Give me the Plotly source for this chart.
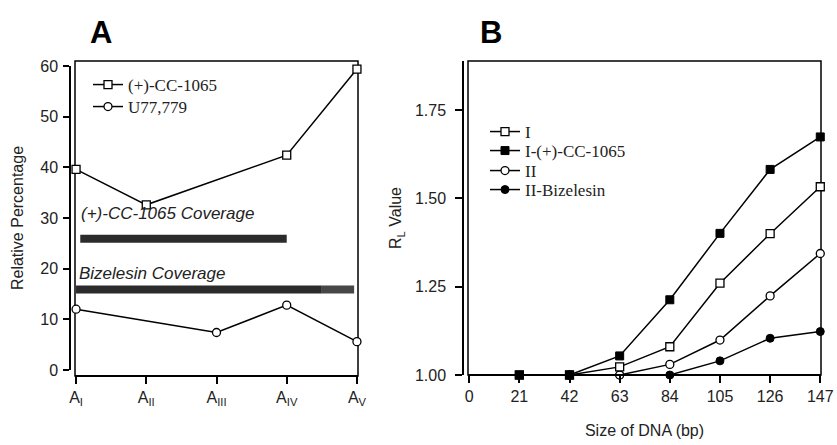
import plotly.graph_objects as go

W, H = 837, 445

# ---------- Panel A data ----------
site_pos = [0, 1, 2, 3, 4]
site_labels = ["A<sub>I</sub>", "A<sub>II</sub>", "A<sub>III</sub>", "A<sub>IV</sub>", "A<sub>V</sub>"]
cc1065_pct = [39.6, 32.6, None, 42.4, 59.4]
u77779_pct = [12.0, None, 7.4, 12.8, 5.6]

cc_cov_x = [0.06, 3.0]
cc_cov_y = [25.9, 25.9]
biz_cov_x = [0.0, 3.5]
biz_cov_x2 = [3.5, 3.96]
biz_cov_y = [15.9, 15.9]

# ---------- Panel B data ----------
dna_size = [21, 42, 63, 84, 105, 126, 147]
rl_I = [1.00, 1.00, 1.023, 1.08, 1.26, 1.40, 1.533]
rl_I_cc = [1.00, 1.00, 1.054, 1.213, 1.401, 1.582, 1.674]
rl_II = [None, 1.00, 1.00, 1.03, 1.099, 1.224, 1.344]
rl_II_biz = [None, 1.00, 1.00, 1.00, 1.04, 1.104, 1.123]
b_xticks = [0, 21, 42, 63, 84, 105, 126, 147]
b_yticks = [1.00, 1.25, 1.50, 1.75]
b_yticklabels = ["1.00", "1.25", "1.50", "1.75"]


def px(x):
    return x / W


def py(y):
    return 1 - y / H


fig = go.Figure()

LINE = dict(color="black", width=1.5)

# Coverage bars (A)
fig.add_trace(go.Scatter(x=cc_cov_x, y=cc_cov_y, mode="lines", line=dict(color="#2b2b2b", width=8),
                         showlegend=False, hoverinfo="skip", xaxis="x", yaxis="y"))
fig.add_trace(go.Scatter(x=biz_cov_x, y=biz_cov_y, mode="lines", line=dict(color="#2b2b2b", width=8),
                         showlegend=False, hoverinfo="skip", xaxis="x", yaxis="y"))
fig.add_trace(go.Scatter(x=biz_cov_x2, y=biz_cov_y, mode="lines", line=dict(color="#474747", width=8),
                         showlegend=False, hoverinfo="skip", xaxis="x", yaxis="y"))

# Series (A)
fig.add_trace(go.Scatter(x=site_pos, y=cc1065_pct, name="(+)-CC-1065", mode="lines+markers",
                         connectgaps=True, line=LINE,
                         marker=dict(symbol="square", size=8, color="white", line=dict(color="black", width=1.3)),
                         xaxis="x", yaxis="y", legend="legend", cliponaxis=False))
fig.add_trace(go.Scatter(x=site_pos, y=u77779_pct, name="U77,779", mode="lines+markers",
                         connectgaps=True, line=LINE,
                         marker=dict(symbol="circle", size=8, color="white", line=dict(color="black", width=1.3)),
                         xaxis="x", yaxis="y", legend="legend2", cliponaxis=False))

# Series (B) - drawn bottom-up
fig.add_trace(go.Scatter(x=dna_size, y=rl_II_biz, name="II-Bizelesin", mode="lines+markers",
                         line=LINE,
                         marker=dict(symbol="circle", size=8, color="black", line=dict(color="black", width=1)),
                         xaxis="x2", yaxis="y2", legend="legend6", cliponaxis=False))
fig.add_trace(go.Scatter(x=dna_size, y=rl_II, name="II", mode="lines+markers",
                         line=LINE,
                         marker=dict(symbol="circle", size=8, color="white", line=dict(color="black", width=1.3)),
                         xaxis="x2", yaxis="y2", legend="legend5", cliponaxis=False))
fig.add_trace(go.Scatter(x=dna_size, y=rl_I, name="I", mode="lines+markers",
                         line=LINE,
                         marker=dict(symbol="square", size=8, color="white", line=dict(color="black", width=1.3)),
                         xaxis="x2", yaxis="y2", legend="legend3", cliponaxis=False))
fig.add_trace(go.Scatter(x=dna_size, y=rl_I_cc, name="I-(+)-CC-1065", mode="lines+markers",
                         line=LINE,
                         marker=dict(symbol="square", size=8, color="black", line=dict(color="black", width=1)),
                         xaxis="x2", yaxis="y2", legend="legend4", cliponaxis=False))

SANS = "Arial, Liberation Sans, sans-serif"
TICKFONT = dict(family=SANS, size=16, color="#222")
TITLEFONT = dict(family=SANS, size=16, color="#222")
LEGFONT = dict(family="Liberation Serif, Times New Roman, serif", size=17, color="#222")


def leg(xpix, ypix):
    return dict(x=px(xpix), y=py(ypix), xanchor="left", yanchor="middle", font=LEGFONT,
                bgcolor="rgba(0,0,0,0)", borderwidth=0, tracegroupgap=0, itemwidth=30)


AX = dict(showline=True, linecolor="black", linewidth=1.5, ticks="outside", tickwidth=1.5,
          tickcolor="black", showgrid=False, zeroline=False, tickfont=TICKFONT, automargin=False)

fig.update_layout(
    width=W, height=H,
    margin=dict(l=0, r=0, t=0, b=0, autoexpand=False),
    paper_bgcolor="white", plot_bgcolor="white",
    showlegend=True,
    xaxis=dict(AX, domain=[px(75), px(358)], range=[-0.015, 4.015], anchor="free", position=py(376),
               tickvals=site_pos, ticktext=site_labels, ticklen=7),
    yaxis=dict(AX, domain=[py(370), py(66)], range=[0, 60], anchor="free", position=px(70),
               tickvals=[0, 10, 20, 30, 40, 50, 60], ticklen=6, ticklabelstandoff=2,
               title=dict(text="Relative Percentage", font=TITLEFONT, standoff=12)),
    xaxis2=dict(AX, domain=[px(468), px(821)], range=[-0.5, 147.3], anchor="free", position=py(375),
                tickvals=b_xticks, ticklen=7,
                title=dict(text="Size of DNA (bp)", font=TITLEFONT, standoff=20)),
    yaxis2=dict(AX, domain=[py(375), py(61)], range=[1.0, 1.889], anchor="free", position=px(463),
                tickvals=b_yticks, ticktext=b_yticklabels, ticklen=7, ticklabelstandoff=6,
                title=dict(text="R<sub>L</sub> Value", font=TITLEFONT, standoff=8)),
    legend=leg(88, 85),
    legend2=leg(88, 107),
    legend3=leg(485, 132),
    legend4=leg(485, 151),
    legend5=leg(485, 171),
    legend6=leg(485, 190),
    shapes=[
        dict(type="rect", xref="paper", yref="paper", x0=px(75), x1=px(358), y0=py(376), y1=py(61),
             line=dict(color="black", width=1.5), fillcolor="rgba(0,0,0,0)", layer="below"),
        dict(type="rect", xref="paper", yref="paper", x0=px(468), x1=px(821), y0=py(375), y1=py(61),
             line=dict(color="black", width=1.5), fillcolor="rgba(0,0,0,0)", layer="below"),
    ],
    annotations=[
        dict(text="<b>A</b>", xref="paper", yref="paper", x=px(101), y=py(32), xanchor="center", yanchor="middle",
             showarrow=False, font=dict(family=SANS, size=31, color="black")),
        dict(text="<b>B</b>", xref="paper", yref="paper", x=px(491), y=py(32), xanchor="center", yanchor="middle",
             showarrow=False, font=dict(family=SANS, size=31, color="black")),
        dict(text="<i>(+)-CC-1065 Coverage</i>", xref="x", yref="y", x=0.04, y=30.8, xanchor="left",
             yanchor="middle", showarrow=False, font=dict(family=SANS, size=17, color="#222")),
        dict(text="<i>Bizelesin Coverage</i>", xref="x", yref="y", x=0.015, y=19.1, xanchor="left",
             yanchor="middle", showarrow=False, font=dict(family=SANS, size=17, color="#222")),
    ],
)

fig.write_html("out.html", config={"displayModeBar": False},
               post_script="document.body.style.margin='0';document.body.style.padding='0';")
